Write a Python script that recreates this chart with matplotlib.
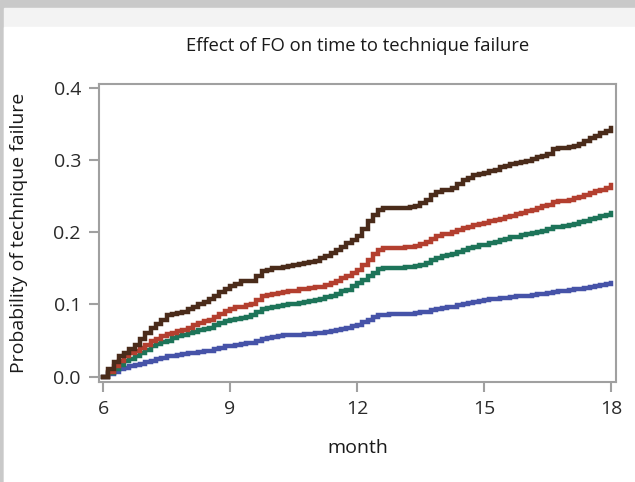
import matplotlib
matplotlib.use('Agg')
import matplotlib.pyplot as plt
from matplotlib.patches import Rectangle

plt.rcParams['font.family'] = ['Open Sans', 'DejaVu Sans']

month = [6.0, 6.125, 6.25, 6.375, 6.5, 6.625, 6.75, 6.875,
         7.0, 7.125, 7.25, 7.375, 7.5, 7.625, 7.75, 7.875,
         8.0, 8.125, 8.25, 8.375, 8.5, 8.625, 8.75, 8.875,
         9.0, 9.125, 9.25, 9.375, 9.5, 9.625, 9.75, 9.875,
         10.0, 10.125, 10.25, 10.375, 10.5, 10.625, 10.75, 10.875,
         11.0, 11.125, 11.25, 11.375, 11.5, 11.625, 11.75, 11.875,
         12.0, 12.125, 12.25, 12.375, 12.5, 12.625, 12.75, 12.875,
         13.0, 13.125, 13.25, 13.375, 13.5, 13.625, 13.75, 13.875,
         14.0, 14.125, 14.25, 14.375, 14.5, 14.625, 14.75, 14.875,
         15.0, 15.125, 15.25, 15.375, 15.5, 15.625, 15.75, 15.875,
         16.0, 16.125, 16.25, 16.375, 16.5, 16.625, 16.75, 16.875,
         17.0, 17.125, 17.25, 17.375, 17.5, 17.625, 17.75, 17.875,
         18.0]

brown = [0.000, 0.010, 0.020, 0.028, 0.033, 0.038, 0.044, 0.052,
         0.060, 0.067, 0.073, 0.079, 0.085, 0.087, 0.088, 0.090,
         0.093, 0.096, 0.100, 0.103, 0.107, 0.111, 0.117, 0.122,
         0.126, 0.129, 0.132, 0.132, 0.132, 0.139, 0.146, 0.148,
         0.150, 0.151, 0.152, 0.153, 0.155, 0.156, 0.157, 0.159,
         0.160, 0.164, 0.167, 0.171, 0.175, 0.180, 0.185, 0.189,
         0.195, 0.205, 0.215, 0.224, 0.231, 0.234, 0.234, 0.234,
         0.234, 0.234, 0.235, 0.237, 0.240, 0.245, 0.251, 0.256,
         0.259, 0.259, 0.262, 0.267, 0.272, 0.275, 0.280, 0.281,
         0.282, 0.285, 0.287, 0.290, 0.292, 0.294, 0.296, 0.297,
         0.299, 0.302, 0.304, 0.306, 0.309, 0.315, 0.317, 0.317,
         0.318, 0.320, 0.322, 0.326, 0.330, 0.334, 0.337, 0.341,
         0.345]

red = [0.000, 0.007, 0.015, 0.022, 0.028, 0.032, 0.035, 0.039,
       0.044, 0.049, 0.052, 0.056, 0.059, 0.061, 0.063, 0.065,
       0.068, 0.071, 0.074, 0.077, 0.079, 0.083, 0.087, 0.091,
       0.094, 0.096, 0.097, 0.099, 0.101, 0.106, 0.111, 0.113,
       0.115, 0.116, 0.117, 0.118, 0.119, 0.121, 0.122, 0.123,
       0.124, 0.124, 0.127, 0.130, 0.133, 0.136, 0.139, 0.144,
       0.148, 0.155, 0.162, 0.170, 0.176, 0.178, 0.178, 0.178,
       0.178, 0.179, 0.179, 0.181, 0.184, 0.186, 0.190, 0.195,
       0.197, 0.198, 0.200, 0.203, 0.206, 0.208, 0.210, 0.212,
       0.213, 0.215, 0.217, 0.219, 0.221, 0.223, 0.225, 0.227,
       0.229, 0.231, 0.234, 0.236, 0.238, 0.242, 0.243, 0.244,
       0.245, 0.247, 0.249, 0.251, 0.254, 0.257, 0.259, 0.262,
       0.265]

green = [0.000, 0.005, 0.011, 0.016, 0.021, 0.025, 0.028, 0.032,
         0.037, 0.042, 0.045, 0.048, 0.050, 0.053, 0.056, 0.058,
         0.060, 0.062, 0.064, 0.066, 0.068, 0.071, 0.074, 0.077,
         0.079, 0.080, 0.081, 0.083, 0.085, 0.089, 0.093, 0.095,
         0.097, 0.098, 0.099, 0.100, 0.101, 0.102, 0.103, 0.105,
         0.106, 0.107, 0.110, 0.112, 0.115, 0.118, 0.120, 0.126,
         0.130, 0.134, 0.139, 0.144, 0.149, 0.150, 0.151, 0.151,
         0.151, 0.152, 0.152, 0.153, 0.155, 0.157, 0.161, 0.165,
         0.167, 0.168, 0.170, 0.172, 0.175, 0.178, 0.180, 0.182,
         0.183, 0.185, 0.187, 0.189, 0.191, 0.193, 0.194, 0.196,
         0.197, 0.199, 0.200, 0.202, 0.204, 0.207, 0.208, 0.209,
         0.210, 0.212, 0.214, 0.216, 0.218, 0.220, 0.222, 0.224,
         0.227]

blue = [0.000, 0.003, 0.006, 0.010, 0.012, 0.014, 0.016, 0.018,
        0.020, 0.022, 0.024, 0.026, 0.028, 0.029, 0.030, 0.031,
        0.032, 0.033, 0.034, 0.035, 0.036, 0.038, 0.040, 0.042,
        0.043, 0.044, 0.045, 0.046, 0.047, 0.050, 0.052, 0.054,
        0.055, 0.056, 0.057, 0.057, 0.058, 0.058, 0.059, 0.059,
        0.060, 0.060, 0.062, 0.063, 0.065, 0.066, 0.067, 0.070,
        0.072, 0.075, 0.078, 0.082, 0.085, 0.086, 0.087, 0.087,
        0.087, 0.087, 0.087, 0.088, 0.089, 0.090, 0.092, 0.094,
        0.095, 0.096, 0.097, 0.099, 0.101, 0.102, 0.104, 0.105,
        0.106, 0.107, 0.108, 0.109, 0.109, 0.110, 0.111, 0.112,
        0.112, 0.113, 0.114, 0.115, 0.116, 0.117, 0.118, 0.119,
        0.120, 0.121, 0.122, 0.123, 0.124, 0.126, 0.127, 0.128,
        0.130]

series = [(blue, '#4653a8'), (green, '#1d7459'), (red, '#b33f2f'), (brown, '#4a2b1a')]

fig = plt.figure(figsize=(6.35, 4.82), dpi=100)
# screenshot frame
fig.patches.append(Rectangle((0, 0), 1, 1, transform=fig.transFigure, color='#c9c9c9', zorder=-10))
fig.patches.append(Rectangle((4 / 635, 0), 1, 1 - 8 / 482, transform=fig.transFigure, color='#f3f3f3', zorder=-9))
fig.patches.append(Rectangle((4 / 635, 0), 1, 1 - 27 / 482, transform=fig.transFigure, color='white', zorder=-8))

ax = fig.add_axes([99 / 635, 1 - 382 / 482, 517 / 635, 298 / 482])
ax.set_facecolor('white')
for vals, col in series:
    ax.plot(month, vals, drawstyle='steps-post', color=col, lw=3.2, solid_joinstyle='miter')

ax.set_xlim(5.905, 18.12)
ax.set_ylim(-0.0075, 0.4055)
ax.set_xticks([6, 9, 12, 15, 18])
ax.set_yticks([0.0, 0.1, 0.2, 0.3, 0.4])
ax.set_yticklabels(['0.0', '0.1', '0.2', '0.3', '0.4'])
for s in ax.spines.values():
    s.set_color('#a0a0a0')
    s.set_linewidth(1.5)
ax.tick_params(direction='out', length=7, width=1.5, color='#a0a0a0',
               labelsize=14, labelcolor='#2a2a2a', pad=6)

ax.set_title('Effect of FO on time to technique failure', fontsize=13.3, color='#1a1a1a', pad=24)
ax.set_xlabel('month', fontsize=14, color='#1a1a1a', labelpad=15)
ax.set_ylabel('Probability of technique failure', fontsize=14, color='#1a1a1a', labelpad=18)

fig.savefig('out.png', dpi=100)
